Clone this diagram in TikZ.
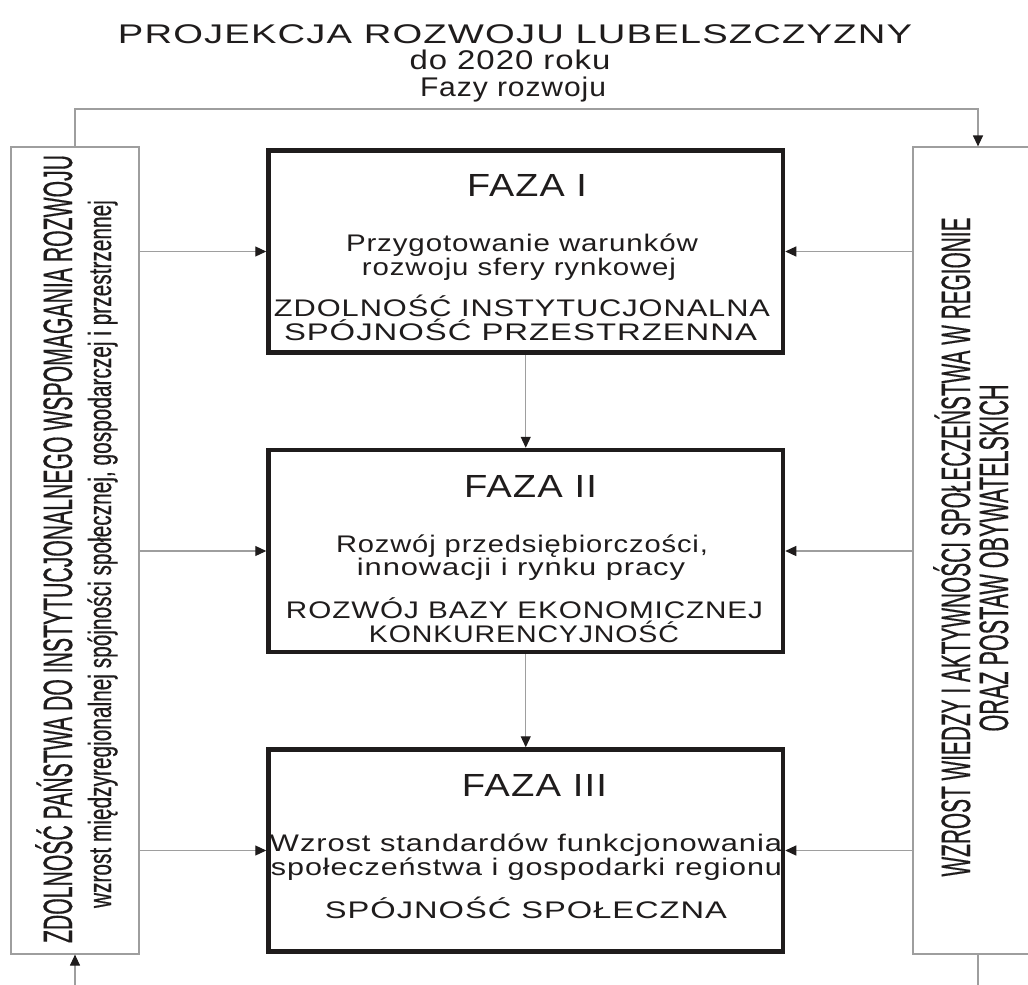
\documentclass[tikz,border=0pt]{standalone}
\usepackage{fontspec}
\setmainfont{Liberation Sans}
\newfontfamily\boxfont[LetterSpace=3]{Liberation Sans}
\newfontfamily\sidefont[FakeBold=0.6]{Liberation Sans}
\usetikzlibrary{arrows.meta}
\definecolor{linegray}{rgb}{0.62,0.62,0.62}
\definecolor{ink}{rgb}{0.12,0.11,0.11}
\newcommand{\fitw}[3]{\resizebox{#1pt}{\height}{\sidefont\fontsize{#2}{#2}\selectfont #3}}
\newcommand{\fitb}[3]{\resizebox{#1pt}{\height}{\boxfont\fontsize{#2}{#2}\selectfont #3}}
\begin{document}
\begin{tikzpicture}[x=1pt,y=-1pt,
  phase/.style={draw=ink, line width=4.5pt, minimum width=514.5pt, minimum height=202pt, inner sep=0pt},
  panel/.style={draw=linegray, line width=1.2pt, inner sep=0pt},
  conn/.style={draw=linegray, line width=1.2pt},
  arr/.style={conn, -{Triangle[length=11pt,width=10pt,color=ink]}},
  txt/.style={inner sep=0pt, anchor=base, text=ink},
  vtxt/.style={inner sep=0pt, anchor=base, rotate=90, text=ink}]
\useasboundingbox (0,0) rectangle (1028,985);
\clip (0,0) rectangle (1028,985);
\fill[white] (0,0) rectangle (1028,985);

% title
\node[txt] (title1) at (515,43) {\fitb{794}{27}{PROJEKCJA ROZWOJU LUBELSZCZYZNY}};
\node[txt] (title2) at (510,69.5) {\fitb{201}{27}{do 2020 roku}};
\node[txt] (title3) at (513,96) {\fitb{186}{27}{Fazy rozwoju}};

% phase boxes
\node[phase] (B1) at (525.75,251.5) {};
\node[phase] (B2) at (525.75,551) {};
\node[phase] (B3) at (525.75,850.5) {};

% side panels
\node[panel, minimum width=128pt, minimum height=807pt] (L) at (75,550.5) {};
\node[panel, minimum width=130pt, minimum height=807pt] (R) at (978,550.5) {};

% box 1 text
\node[txt] (f1) at (527,196) {\fitb{120}{32}{FAZA I}};
\node[txt] (f1a) at (522,251) {\fitb{352}{24}{Przygotowanie warunków}};
\node[txt] (f1b) at (519,275) {\fitb{314}{24}{rozwoju sfery rynkowej}};
\node[txt] (f1c) at (522,316) {\fitb{496}{24}{ZDOLNOŚĆ INSTYTUCJONALNA}};
\node[txt] (f1d) at (520.5,340) {\fitb{473}{24}{SPÓJNOŚĆ PRZESTRZENNA}};

% box 2 text
\node[txt] (f2) at (530.5,497) {\fitb{133}{32}{FAZA II}};
\node[txt] (f2a) at (522,552) {\fitb{372}{24}{Rozwój przedsiębiorczości,}};
\node[txt] (f2b) at (521,575) {\fitb{328}{24}{innowacji i rynku pracy}};
\node[txt] (f2c) at (524.5,618) {\fitb{477}{24}{ROZWÓJ BAZY EKONOMICZNEJ}};
\node[txt] (f2d) at (524,642) {\fitb{310}{24}{KONKURENCYJNOŚĆ}};

% box 3 text
\node[txt] (f3) at (534.5,796) {\fitb{145}{32}{FAZA III}};
\node[txt] (f3a) at (526,851) {\fitb{512}{24}{Wzrost standardów funkcjonowania}};
\node[txt] (f3b) at (526.5,875) {\fitb{511}{24}{społeczeństwa i gospodarki regionu}};
\node[txt] (f3c) at (526,918) {\fitb{402}{24}{SPÓJNOŚĆ SPOŁECZNA}};

% side texts
\node[vtxt] (l1) at (72,549) {\fitw{788}{41}{ZDOLNOŚĆ PAŃSTWA DO INSTYTUCJONALNEGO WSPOMAGANIA ROZWOJU}};
\node[vtxt] (l2) at (111,554) {\fitw{708}{32}{wzrost międzyregionalnej spójności społecznej, gospodarczej i przestrzennej}};
\node[vtxt] (r1) at (970,547) {\fitw{659}{41}{WZROST WIEDZY I AKTYWNOŚCI SPOŁECZEŃSTWA W REGIONIE}};
\node[vtxt] (r2) at (1008,558) {\fitw{347}{41}{ORAZ POSTAW OBYWATELSKICH}};

% connectors
\coordinate (top) at (0,109);
\coordinate (bot) at (0,995);
\draw[arr] (L.north) -- (L.north |- top) -- (R.north |- top) -- (R.north);
\draw[arr] (L.south |- bot) -- (L.south);
\draw[conn] (R.south) -- (R.south |- bot);

\draw[arr] (L.east |- B1.west) -- (B1.west);
\draw[arr] (L.east |- B2.west) -- (B2.west);
\draw[arr] (L.east |- B3.west) -- (B3.west);
\draw[arr] (R.west |- B1.east) -- (B1.east);
\draw[arr] (R.west |- B2.east) -- (B2.east);
\draw[arr] (R.west |- B3.east) -- (B3.east);

\draw[arr] (B1.south) -- (B2.north);
\draw[arr] (B2.south) -- (B3.north);
\end{tikzpicture}
\end{document}
